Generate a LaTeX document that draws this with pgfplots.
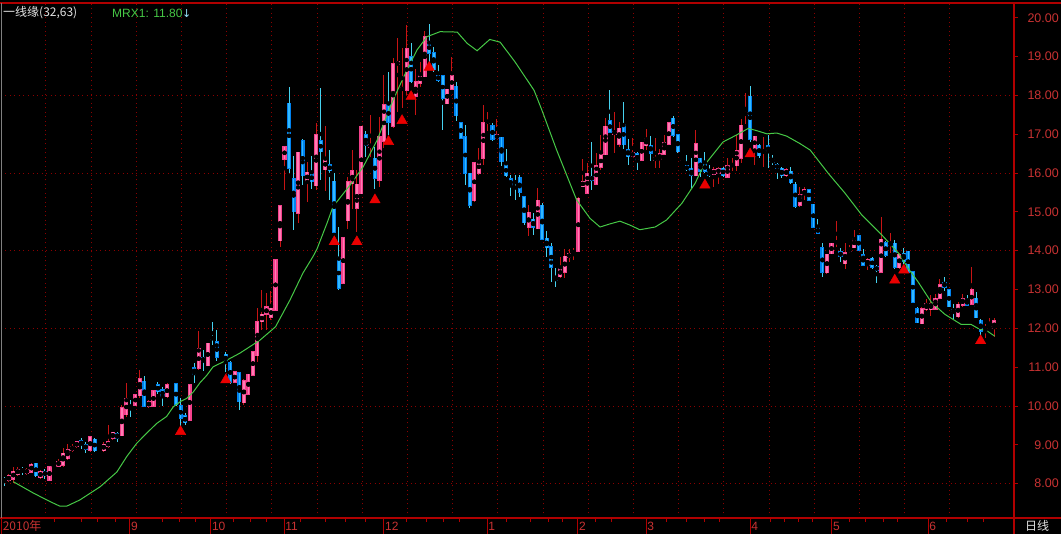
\documentclass[border=0pt]{standalone}
\usepackage{pgfplots}
\pgfplotsset{compat=1.18}
\usepackage{pgfplotstable}
\usepackage{fontspec}
\setmainfont{Liberation Sans}
\newfontfamily\cjk{Noto Sans CJK SC}
\newfontfamily\dejavu{DejaVu Sans}
\definecolor{axisred}{RGB}{176,0,0}
\definecolor{gridred}{RGB}{140,0,0}
\definecolor{labred}{RGB}{200,50,50}
\definecolor{upout}{RGB}{245,65,140}
\definecolor{upin}{RGB}{255,125,180}
\definecolor{upwick}{RGB}{200,20,20}
\definecolor{dnout}{RGB}{0,130,240}
\definecolor{dnin}{RGB}{50,185,255}
\definecolor{dnwick}{RGB}{70,210,240}
\definecolor{mrxc}{RGB}{70,200,70}
\definecolor{tri}{RGB}{235,0,0}

\pgfplotstableread{
i o h l c
0 8.11 8.18 7.95 8.07
1 8.08 8.24 8.04 8.20
2 8.12 8.44 8.01 8.32
3 8.23 8.43 8.21 8.37
4 8.36 8.44 8.23 8.33
5 8.26 8.41 8.23 8.37
6 8.30 8.53 8.28 8.50
7 8.52 8.53 8.18 8.20
8 8.15 8.35 8.13 8.32
9 8.30 8.39 8.13 8.22
10 8.09 8.45 8.06 8.44
11 8.42 8.48 8.40 8.46
12 8.45 8.63 8.43 8.58
13 8.48 8.92 8.43 8.78
14 8.64 9.02 8.62 8.89
15 8.86 9.02 8.82 8.95
16 8.95 9.10 8.92 9.08
17 9.10 9.17 8.89 9.00
18 9.01 9.08 8.79 8.89
19 8.86 9.22 8.82 9.21
20 9.14 9.17 8.82 8.85
21 8.85 8.90 8.82 8.88
22 8.85 9.07 8.82 9.02
23 8.95 9.50 8.92 9.08
24 9.17 9.34 9.12 9.32
25 9.30 9.34 9.08 9.17
26 9.23 10.02 9.22 9.95
27 9.77 10.59 9.71 10.18
28 10.00 10.16 9.71 9.97
29 10.02 10.30 10.00 10.29
30 10.27 10.93 10.20 10.70
31 10.64 10.76 9.98 10.00
32 9.98 10.15 9.96 10.11
33 10.00 10.41 9.98 10.39
34 10.55 10.62 10.30 10.37
35 10.42 10.50 10.00 10.24
36 10.24 10.58 10.20 10.55
37 10.55 10.60 10.53 10.59
38 10.57 10.60 10.00 10.05
39 10.00 10.20 9.48 9.68
40 9.75 9.81 9.51 9.57
41 9.64 10.56 9.61 10.55
42 10.99 11.10 10.59 10.82
43 10.97 11.93 10.93 11.47
44 11.26 11.44 10.90 11.14
45 11.04 11.63 11.03 11.61
46 11.77 12.17 11.58 11.72
47 11.65 11.95 11.17 11.26
48 11.28 11.38 11.28 11.32
49 11.33 11.38 10.88 11.14
50 11.12 11.15 10.57 10.61
51 10.61 10.90 10.59 10.88
52 10.85 10.88 9.91 10.11
53 10.08 10.69 10.02 10.65
54 10.31 10.82 10.28 10.82
55 10.79 11.41 10.78 11.39
56 11.30 12.52 11.14 12.17
57 12.17 12.99 11.96 12.36
58 12.36 12.92 11.97 12.55
59 12.29 12.95 12.21 12.52
60 12.47 13.78 12.45 13.77
61 14.26 15.16 14.10 15.15
62 16.36 16.68 15.57 16.68
63 17.80 18.21 15.99 16.12
64 15.85 16.44 14.54 15.00
65 14.97 16.54 14.72 16.53
66 16.83 16.87 15.69 15.93
67 15.78 16.28 15.26 16.02
68 15.98 16.45 15.59 15.78
69 15.67 17.28 15.56 16.98
70 16.83 18.19 15.82 16.55
71 16.09 17.20 15.54 16.36
72 16.21 16.60 15.30 16.06
73 15.79 15.99 14.45 14.48
74 13.82 14.61 12.98 13.03
75 13.16 14.34 13.14 14.33
76 14.77 15.91 14.57 15.77
77 15.73 16.60 15.08 16.06
78 15.09 16.09 14.49 15.71
79 15.47 17.21 15.47 17.21
80 16.98 17.09 16.42 16.72
81 16.66 17.50 16.42 16.74
82 16.38 16.68 15.59 15.86
83 15.82 17.45 15.65 16.94
84 16.82 18.52 16.64 17.76
85 17.76 18.61 16.97 17.31
86 17.20 18.95 17.17 18.81
87 18.79 19.47 17.58 18.86
88 18.14 19.22 17.67 18.19
89 18.13 19.82 18.00 19.20
90 19.00 19.36 18.31 18.35
91 17.98 18.69 17.50 18.35
92 18.31 18.86 18.22 18.54
93 18.48 19.66 18.48 19.51
94 19.38 19.85 18.86 19.08
95 19.10 19.25 18.60 18.66
96 18.51 18.78 18.35 18.39
97 18.51 18.53 17.10 17.92
98 17.79 18.17 17.79 18.16
99 18.16 19.00 18.14 18.50
100 18.24 18.35 17.34 17.48
101 17.30 17.32 16.87 16.89
102 16.94 17.23 15.69 15.99
103 15.99 16.01 15.10 15.17
104 15.29 16.29 15.25 16.26
105 15.99 16.64 15.94 16.33
106 16.38 17.75 16.21 17.29
107 17.28 17.57 17.07 17.36
108 17.21 17.29 16.82 16.87
109 16.89 17.38 16.89 16.98
110 16.92 16.92 16.19 16.29
111 16.21 16.61 15.89 15.93
112 15.85 15.95 15.41 15.67
113 15.78 15.95 15.30 15.75
114 15.89 15.95 15.37 15.50
115 15.39 15.39 14.66 14.72
116 14.61 15.17 14.39 14.99
117 14.81 14.96 14.41 14.60
118 14.57 15.61 14.57 15.30
119 15.17 15.24 14.30 14.30
120 14.32 14.51 13.83 14.08
121 14.10 14.19 13.20 13.57
122 13.31 13.55 13.06 13.23
123 13.33 13.85 13.29 13.55
124 13.44 14.04 13.29 13.86
125 13.82 14.04 13.70 13.93
126 13.95 14.06 13.76 13.98
127 13.98 15.37 13.98 15.35
128 15.65 16.36 15.65 15.79
129 15.48 16.26 15.48 15.99
130 15.91 16.81 15.57 15.82
131 15.71 16.51 15.71 16.19
132 16.15 16.98 16.08 16.47
133 16.47 17.41 16.47 17.21
134 17.34 18.14 17.02 17.05
135 17.00 17.58 16.51 17.08
136 16.74 17.32 16.67 17.15
137 17.26 17.84 16.63 16.73
138 16.60 16.87 16.20 16.42
139 16.42 16.89 16.40 16.54
140 16.49 16.55 16.08 16.33
141 16.33 16.79 16.33 16.79
142 16.70 17.14 16.59 16.89
143 16.72 16.95 16.32 16.51
144 16.33 16.89 16.14 16.40
145 16.36 16.63 16.12 16.49
146 16.49 16.98 16.49 16.79
147 16.74 17.29 16.72 17.29
148 17.41 17.47 16.94 16.98
149 16.98 16.98 16.51 16.55
150 16.33 16.41 16.31 16.38
151 16.19 16.47 16.04 16.08
152 16.12 16.38 15.60 15.93
153 15.93 17.11 15.93 16.75
154 16.38 16.38 15.91 16.04
155 16.25 16.55 15.99 16.04
156 16.04 16.21 15.91 15.93
157 15.97 16.15 15.64 16.08
158 15.99 16.15 15.73 16.12
159 16.12 16.15 15.91 15.93
160 15.89 16.38 15.89 16.19
161 16.19 16.38 16.04 16.21
162 16.19 16.98 16.04 16.58
163 16.38 17.38 16.25 17.23
164 17.50 18.05 17.25 17.56
165 17.98 18.25 16.81 16.87
166 16.61 16.95 16.21 16.95
167 16.72 16.76 16.38 16.44
168 16.53 16.94 16.16 16.58
169 16.70 16.98 16.14 16.55
170 16.35 16.47 16.21 16.27
171 16.21 16.27 15.84 16.12
172 16.12 16.15 15.86 15.93
173 15.93 16.14 15.91 16.09
174 16.04 16.15 15.71 15.75
175 15.71 15.77 15.11 15.15
176 15.17 15.65 15.13 15.44
177 15.44 15.65 15.30 15.57
178 15.57 15.57 15.30 15.30
179 15.20 15.20 14.60 14.60
180 14.59 14.81 14.43 14.45
181 14.08 14.20 13.31 13.45
182 13.43 13.91 13.41 13.91
183 13.92 14.19 13.92 14.19
184 14.19 14.77 14.10 14.24
185 13.98 14.08 13.72 13.85
186 13.66 14.20 13.53 13.95
187 13.98 14.14 13.93 14.04
188 14.08 14.52 14.08 14.32
189 14.38 14.38 14.01 14.01
190 13.89 14.04 13.60 13.62
191 13.63 13.80 13.50 13.78
192 13.80 13.83 13.54 13.57
193 13.58 13.63 13.16 13.50
194 13.45 14.88 13.45 14.29
195 14.20 14.26 13.85 13.89
196 14.14 14.45 13.93 14.20
197 14.19 14.27 13.54 13.58
198 13.56 13.95 13.54 13.91
199 13.93 14.08 13.65 13.72
200 13.98 14.00 13.43 13.45
201 13.45 13.47 12.66 12.67
202 12.50 12.55 12.13 12.14
203 12.12 12.55 12.10 12.50
204 12.48 12.75 12.45 12.64
205 12.48 12.86 12.33 12.64
206 12.49 12.88 12.49 12.77
207 12.77 13.28 12.75 13.12
208 13.17 13.32 12.97 13.06
209 12.99 13.00 12.54 12.56
210 12.48 12.62 12.23 12.44
211 12.30 12.68 12.27 12.62
212 12.60 12.88 12.54 12.77
213 12.74 12.86 12.58 12.60
214 12.62 13.59 12.62 12.99
215 12.77 12.93 12.27 12.27
216 12.21 12.23 11.84 11.92
217 11.98 12.10 11.75 12.03
218 11.99 12.27 11.97 12.05
219 11.99 12.27 11.79 12.19
}\kdata

\pgfplotstableread{
i v
2.0 8.05
6.4 7.76
10.1 7.54
12.3 7.42
13.8 7.42
16.7 7.58
21.2 7.92
24.9 8.30
27.1 8.70
29.3 9.04
31.5 9.30
33.7 9.55
35.9 9.73
37.4 9.98
38.9 10.11
40.4 10.20
41.8 10.36
43.3 10.60
44.8 10.79
46.2 11.01
49.2 11.18
52.1 11.36
56.6 11.70
60.0 12.04
63.2 12.73
66.1 13.43
68.3 13.85
69.2 14.05
71.4 14.71
72.7 15.13
76.5 15.69
79.4 16.16
82.5 16.85
86.0 17.88
89.1 18.66
91.3 19.17
93.5 19.51
96.4 19.64
100.2 19.63
102.4 19.34
104.6 19.15
107.4 19.44
109.7 19.37
113.0 18.86
117.2 18.13
118.9 17.63
122.2 16.59
124.4 15.95
126.6 15.31
129.6 14.83
131.8 14.61
134.0 14.69
136.2 14.76
138.4 14.66
140.6 14.54
144.0 14.61
146.5 14.79
149.9 15.22
152.8 15.73
154.6 16.16
159.0 16.80
162.0 16.98
164.6 17.15
166.5 17.09
168.7 17.01
170.9 17.03
173.1 16.95
176.0 16.76
178.3 16.59
182.3 15.99
186.0 15.48
189.7 14.92
194.1 14.41
197.8 13.94
200.0 13.54
202.2 13.19
205.1 12.67
208.1 12.36
209.9 12.23
211.7 12.10
213.9 12.10
215.4 12.00
217.6 11.92
219.1 11.80
}\mrxT

\pgfplotstableread{
i v
39 9.34
49 10.67
73 14.23
78 14.23
82 15.31
85 16.81
88 17.35
90 17.97
94 18.72
155 15.69
165 16.49
197 13.24
199 13.50
216 11.68
}\triT

\pgfplotsset{
  candle/.style 2 args={only marks, mark=none, forget plot,
    error bars/.cd, y dir=both, y explicit, error mark=none,
    error bar style={draw=#1, line width=#2, solid}},
  upk/.style={restrict expr to domain={\thisrow{c}-\thisrow{o}}{0:100}},
  dnk/.style={restrict expr to domain={\thisrow{c}-\thisrow{o}}{-100:-0.0001}},
  geom/.style={at={(1pt,16pt)}, anchor=south west, width=1013pt, height=515pt,
    scale only axis, xmin=-0.73, xmax=223.38, ymin=7.116, ymax=20.379},
}

\begin{document}
\begin{tikzpicture}[x=1pt,y=1pt]
\useasboundingbox (0,0) rectangle (1061,534);
\fill[black] (0,0) rectangle (1061,534);
\begin{axis}[geom,
  axis line style={draw=none},
  xtick=\empty,
  ytick={8,9,10,11,12,13,14,15,16,17,18,19,20},
  yticklabels={8.00,9.00,10.00,11.00,12.00,13.00,14.00,15.00,16.00,17.00,18.00,19.00,20.00},
  ytick pos=right, yticklabel pos=right,
  tick align=outside, major tick length=4pt,
  tick style={draw=axisred, line width=0.8pt},
  yticklabel style={anchor=east, xshift=41pt, inner sep=0pt, text=labred, font=\fontsize{12.5}{14}\selectfont},
  major grid style={draw=gridred, line width=1pt, dash pattern=on 1pt off 3.5pt},
  extra y ticks={8,10,12,14,16,18}, extra y tick labels={},
  extra y tick style={grid=major, tick style={draw=none}},
  extra x ticks={9.2,19.2,29.2,39.2,49.2,59.2,69.2,79.2,89.2,99.2,109.2,119.2,129.2,139.2,149.2,159.2,169.2,179.2,189.2,199.2,209.2},
  extra x tick labels={},
  extra x tick style={grid=major, tick style={draw=none}},
]
% wicks
\addplot[candle={upwick}{1pt}] table[x=i, y expr={(\thisrow{h}+\thisrow{l})/2}, y error expr={(\thisrow{h}-\thisrow{l})/2}, upk] \kdata;
\addplot[candle={dnwick}{1pt}] table[x=i, y expr={(\thisrow{h}+\thisrow{l})/2}, y error expr={(\thisrow{h}-\thisrow{l})/2}, dnk] \kdata;
% bodies
\addplot[candle={upout}{4.1pt}] table[x=i, y expr={(\thisrow{o}+\thisrow{c})/2}, y error expr={abs(\thisrow{c}-\thisrow{o})/2+0.014}, upk] \kdata;
\addplot[candle={upin}{1.6pt}] table[x=i, y expr={(\thisrow{o}+\thisrow{c})/2}, y error expr={abs(\thisrow{c}-\thisrow{o})/2}, upk] \kdata;
\addplot[candle={dnout}{4.1pt}] table[x=i, y expr={(\thisrow{o}+\thisrow{c})/2}, y error expr={abs(\thisrow{c}-\thisrow{o})/2+0.014}, dnk] \kdata;
\addplot[candle={dnin}{1.6pt}] table[x=i, y expr={(\thisrow{o}+\thisrow{c})/2}, y error expr={abs(\thisrow{c}-\thisrow{o})/2}, dnk] \kdata;
% MRX1
\addplot[mrxc, line width=1pt, mark=none] table[x=i, y=v] \mrxT;
% signals
\addplot[only marks, mark=triangle*, mark size=6pt, mark options={fill=tri, draw=tri}] table[x=i, y=v] \triT;
\end{axis}

\begin{axis}[geom,
  axis line style={draw=none},
  ytick=\empty,
  xtick={-0.6,27.8,45.7,61.9,84.0,106.8,126.9,142.0,165.0,183.1,204.4},
  xticklabels={{\cjk 2010年},9,10,11,12,1,2,3,4,5,6},
  minor xtick={11.2,17.0,20.7,24.5,34.9,38.7,42.4,50.6,54.4,58.1,65.6,71.0,75.4,79.8,88.9,93.3,97.1,100.8,111.2,116.5,120.3,123.4,130.7,134.4,146.4,151.0,154.8,158.3,169.6,172.7,175.6,178.7,186.9,190.6,194.4,197.5,208.5,213.2,216.7},
  xtick pos=left, tick align=outside,
  major tick length=16pt, minor tick length=4pt,
  tick style={draw=axisred, line width=1pt},
  xticklabel style={anchor=west, inner sep=1pt, text=labred, font=\fontsize{12}{14}\selectfont, yshift=8pt},
]
\end{axis}

% frame
\draw[axisred, line width=1.5pt] (0,531) -- (1061,531);
\draw[axisred, line width=1.2pt] (0,16) -- (1061,16);
\draw[axisred, line width=2pt] (1014,0) -- (1014,531);
\draw[gray, line width=1pt] (1,16) -- (1,531);
% header texts
\node[anchor=west, inner sep=0, text={rgb,255:red,225;green,225;blue,225}, font=\cjk\fontsize{12}{14}\selectfont] at (3,521) {一线缘(32,63)};
\node[anchor=west, inner sep=0, text=mrxc, font=\fontsize{12}{14}\selectfont] at (112,521) {MRX1: 11.80};
\node[anchor=west, inner sep=0, text={rgb,255:red,150;green,230;blue,255}, font=\dejavu\fontsize{11}{12}\selectfont] at (182,520) {↓};
\node[anchor=west, inner sep=0, text={rgb,255:red,225;green,225;blue,225}, font=\cjk\fontsize{12}{14}\selectfont] at (1025,8) {日线};
\end{tikzpicture}
\end{document}
